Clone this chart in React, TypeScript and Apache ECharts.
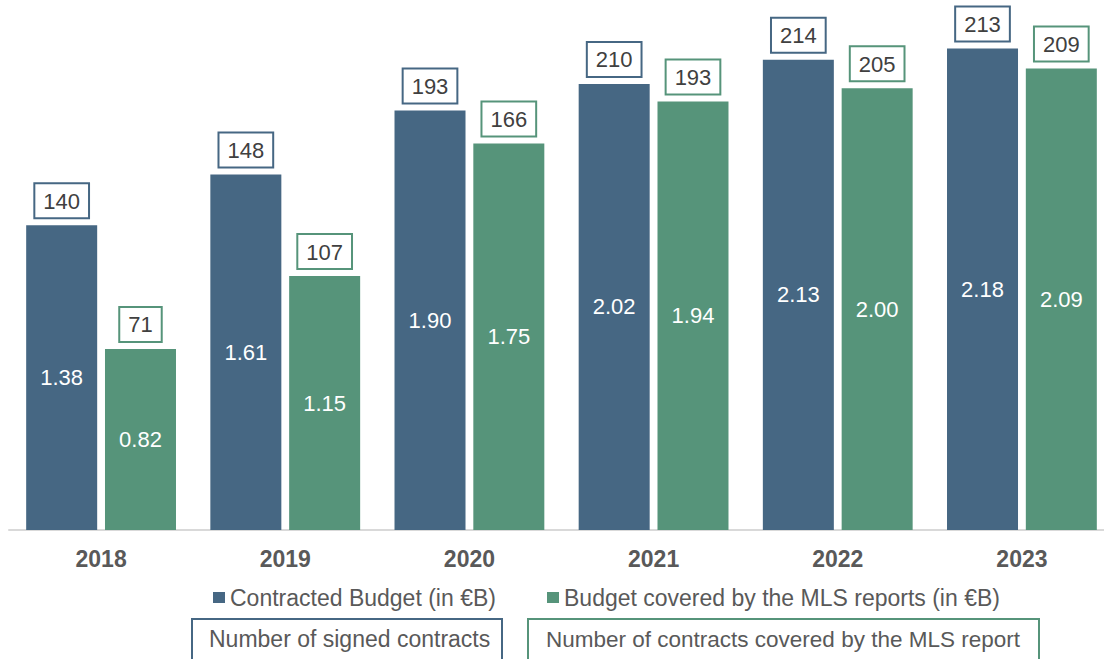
import React, { useEffect, useRef } from "react";
import * as echarts from "echarts";

const years = ["2018", "2019", "2020", "2021", "2022", "2023"];
const contractedBudget = [1.38, 1.61, 1.9, 2.02, 2.13, 2.18];
const coveredBudget = [0.82, 1.15, 1.75, 1.94, 2.0, 2.09];
const signedContracts = [140, 148, 193, 210, 214, 213];
const coveredContracts = [71, 107, 166, 193, 205, 209];

const seriesNames = [
  "Contracted Budget (in €B)",
  "Budget covered by the MLS reports (in €B)",
];
const boxLegendNames = [
  "Number of signed contracts",
  "Number of contracts covered by the MLS report",
];

const BLUE = "#466783";
const GREEN = "#56947A";
const FONT = "'Liberation Sans', Arial, sans-serif";

export default function App() {
  const ref = useRef<HTMLDivElement>(null);
  useEffect(() => {
    if (!ref.current) return;
    const chart = echarts.init(ref.current, undefined, { renderer: "svg" });
    const barWidth = 71;
    const barGap = "11%";
    const topLabel = (color: string, counts: number[]) => ({
      show: true,
      position: "top" as const,
      distance: 8,
      formatter: (p: any) => String(counts[p.dataIndex]),
      color: "#404040",
      fontSize: 22,
      fontFamily: FONT,
      lineHeight: 22,
      backgroundColor: "#ffffff",
      borderColor: color,
      borderWidth: 2,
      padding: [6, 8, 5, 8],
    });
    const insideLabel = {
      show: true,
      position: "inside" as const,
      color: "#ffffff",
      fontSize: 22,
      fontFamily: FONT,
      formatter: (p: any) => Number(p.value).toFixed(2),
    };
    const legendText = { fontSize: 23, color: "#595959", fontFamily: FONT };
    chart.setOption({
      animation: false,
      textStyle: { fontFamily: FONT },
      grid: { left: 9, top: 0, right: 10, height: 530, containLabel: false },
      legend: [
        {
          data: [seriesNames[0]],
          left: 213,
          top: 586,
          padding: 0,
          icon: "rect",
          itemWidth: 12,
          itemHeight: 11,
          textStyle: legendText,
          selectedMode: false,
        },
        {
          data: [seriesNames[1]],
          left: 547,
          top: 586,
          padding: 0,
          icon: "rect",
          itemWidth: 12,
          itemHeight: 11,
          textStyle: legendText,
          selectedMode: false,
        },
      ],
      xAxis: [
        {
          type: "category",
          data: years,
          axisLine: { show: true, lineStyle: { color: "#d9d9d9", width: 2 } },
          axisTick: { show: false },
          axisLabel: {
            fontSize: 23,
            fontWeight: "bold",
            color: "#595959",
            margin: 17,
            fontFamily: FONT,
          },
        },
        {
          type: "category",
          data: years,
          show: false,
          position: "bottom",
        },
      ],
      yAxis: {
        type: "value",
        min: 0,
        max: 2.4,
        show: false,
        splitLine: { show: false },
      },
      series: [
        {
          name: seriesNames[0],
          type: "bar",
          data: contractedBudget,
          barWidth,
          barGap,
          itemStyle: { color: BLUE },
          label: insideLabel,
          silent: true,
        },
        {
          name: seriesNames[1],
          type: "bar",
          data: coveredBudget,
          barWidth,
          barGap,
          itemStyle: { color: GREEN },
          label: insideLabel,
          silent: true,
        },
        {
          name: boxLegendNames[0],
          type: "bar",
          xAxisIndex: 1,
          data: contractedBudget,
          barWidth,
          barGap,
          itemStyle: { color: "rgba(0,0,0,0)" },
          label: topLabel(BLUE, signedContracts),
          silent: true,
        },
        {
          name: boxLegendNames[1],
          type: "bar",
          xAxisIndex: 1,
          data: coveredBudget,
          barWidth,
          barGap,
          itemStyle: { color: "rgba(0,0,0,0)" },
          label: topLabel(GREEN, coveredContracts),
          silent: true,
        },
      ],
      graphic: [
        {
          type: "rect",
          shape: { x: 192, y: 619, width: 310, height: 60 },
          style: { fill: "#ffffff", stroke: BLUE, lineWidth: 2 },
        },
        {
          type: "text",
          x: 209,
          y: 639,
          style: {
            text: boxLegendNames[0],
            fontSize: 23,
            fontFamily: FONT,
            fill: "#595959",
            verticalAlign: "middle",
          },
        },
        {
          type: "rect",
          shape: { x: 528, y: 619, width: 511, height: 60 },
          style: { fill: "#ffffff", stroke: GREEN, lineWidth: 2 },
        },
        {
          type: "text",
          x: 546,
          y: 639,
          style: {
            text: boxLegendNames[1],
            fontSize: 22.5,
            fontFamily: FONT,
            fill: "#595959",
            verticalAlign: "middle",
          },
        },
      ],
    });
    return () => chart.dispose();
  }, []);
  return (
    <div
      style={{
        position: "absolute",
        left: 0,
        top: 0,
        width: 1104,
        height: 659,
        overflow: "hidden",
      }}
    >
      <div ref={ref} style={{ width: 1124, height: 659 }} />
    </div>
  );
}
